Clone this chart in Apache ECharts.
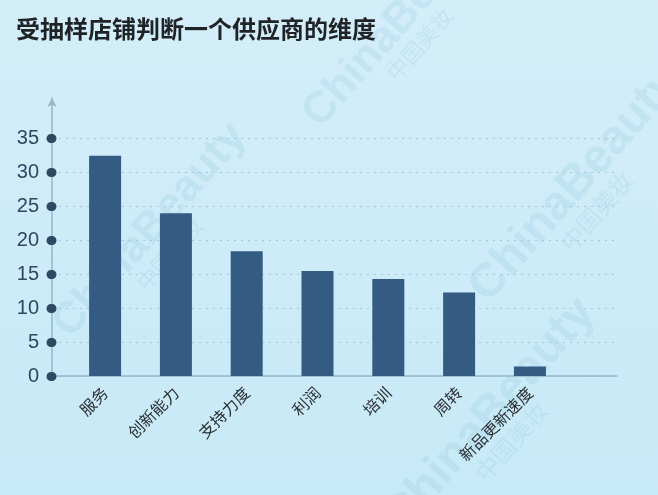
<!DOCTYPE html>
<html>
<head>
<meta charset="utf-8">
<script src="https://cdn.jsdelivr.net/npm/echarts@6/dist/echarts.min.js"></script>
<style>
html,body{margin:0;padding:0;background:#cbeaf7;}
#c{width:658px;height:495px;}
</style>
</head>
<body>
<div id="c"></div>
<script>
const titleText = '受抽样店铺判断一个供应商的维度';
const categories = ['服务', '创新能力', '支持力度', '利润', '培训', '周转', '新品更新速度'];
const values = [32.5, 24.0, 18.4, 15.5, 14.3, 12.3, 1.4];
const yTickValues = [0, 5, 10, 15, 20, 25, 30, 35];
const xTickValues = categories.map((c, i) => i);
const watermarkText = 'ChinaBeauty';
const watermarkSub = '中国美妆';

function watermark(x, y, size) {
  const wm = {fill: 'rgba(140,195,225,0.22)', fontFamily: 'Liberation Sans', fontWeight: 'bold'};
  return [{
    type: 'text', x: x, y: y, rotation: 0.85, z: -1, silent: true,
    style: Object.assign({text: watermarkText, fontSize: size, align: 'center', verticalAlign: 'middle'}, wm)
  }, {
    type: 'text', x: x + size * 0.45, y: y + size * 0.55, rotation: 0.85, z: -1, silent: true,
    style: Object.assign({text: watermarkSub, fontSize: size * 0.5, align: 'center', verticalAlign: 'middle'}, wm,
      {fontFamily: 'Noto Sans CJK SC', fontWeight: 'normal'})
  }];
}

const chart = echarts.init(document.getElementById('c'));
chart.setOption({
  backgroundColor: {
    type: 'linear', x: 0, y: 0, x2: 0, y2: 1,
    colorStops: [{offset: 0, color: '#d3eef9'}, {offset: 1, color: '#c8e9f7'}]
  },
  animation: false,
  graphic: [].concat(
    watermark(150, 230, 44),
    watermark(575, 185, 48),
    watermark(490, 415, 48),
    watermark(400, 20, 44)
  ),
  title: {
    text: titleText,
    left: 11, top: 12,
    textStyle: {fontFamily: 'Noto Sans CJK SC', fontSize: 24, fontWeight: 'bold', color: '#1f2326'}
  },
  grid: {left: 52, right: 41, top: 98, bottom: 119},
  xAxis: {
    type: 'value', min: -0.75, max: 7.23,
    axisLine: {show: true, onZero: false, lineStyle: {color: '#93b7cb', width: 1.5}},
    axisTick: {show: false},
    splitLine: {show: false},
    axisLabel: {
      customValues: xTickValues,
      rotate: 45, margin: 14,
      fontFamily: 'Noto Sans CJK SC', fontSize: 16, color: '#2b2f33',
      formatter: v => categories[Math.round(v)]
    }
  },
  yAxis: {
    type: 'value', min: 0, max: 41, interval: 5,
    axisLine: {show: true, onZero: false, symbol: ['none', 'arrow'], symbolSize: [7, 9], lineStyle: {color: '#93b7cb', width: 1.5}},
    axisTick: {show: true, customValues: yTickValues, length: 1, inside: false,
      lineStyle: {color: '#2e4a63', width: 9, cap: 'round'}},
    axisLabel: {customValues: yTickValues, margin: 13, fontFamily: 'Liberation Sans', fontSize: 20, color: '#2e4760'},
    splitLine: {show: true, lineStyle: {color: '#a9c6d6', type: [2, 5], width: 1}}
  },
  series: [{
    type: 'bar',
    barWidth: 32,
    itemStyle: {color: '#335b84'},
    data: categories.map((c, i) => [i, values[i]])
  }]
});
</script>
</body>
</html>
